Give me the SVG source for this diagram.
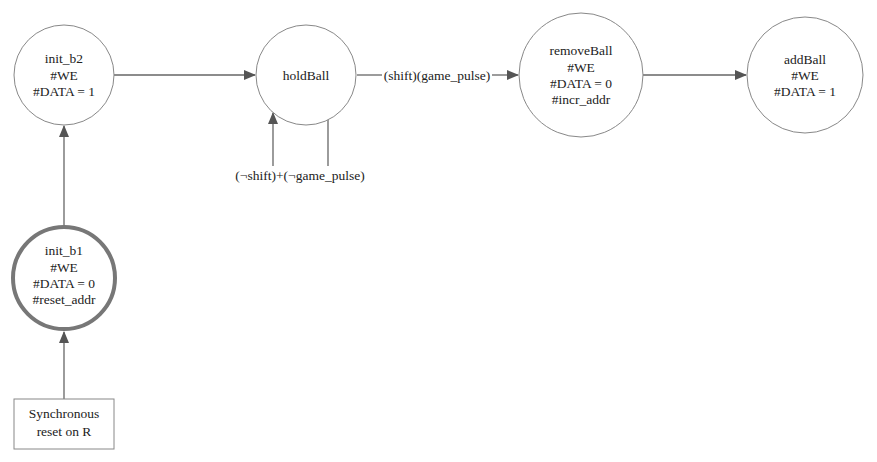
<svg xmlns="http://www.w3.org/2000/svg" width="877" height="462" viewBox="0 0 877 462">
<defs>
<marker id="ah" markerWidth="12" markerHeight="10" refX="11" refY="5" orient="auto" markerUnits="userSpaceOnUse">
<path d="M0,0 L12,5 L0,10 Z" fill="#555"/>
</marker>
<style>
.n{fill:#fff;stroke:#888;stroke-width:1}
.t{font-family:"Liberation Serif",serif;font-size:13.5px;fill:#222;text-anchor:middle}
.c{fill:none;stroke:#666;stroke-width:1.3}
</style>
</defs>
<rect width="877" height="462" fill="#fff"/>
<g id="connectors">
<line class="c" x1="114" y1="75" x2="255" y2="75" marker-end="url(#ah)"/>
<line class="c" x1="357" y1="75" x2="382" y2="75"/>
<line class="c" x1="492" y1="75" x2="518" y2="75" marker-end="url(#ah)"/>
<line class="c" x1="643" y1="75" x2="746" y2="75" marker-end="url(#ah)"/>
<line class="c" x1="328" y1="119" x2="328" y2="166"/>
<line class="c" x1="273" y1="166" x2="273" y2="113" marker-end="url(#ah)"/>
<line class="c" x1="64" y1="225" x2="64" y2="126" marker-end="url(#ah)"/>
<line class="c" x1="64" y1="399" x2="64" y2="332" marker-end="url(#ah)"/>
<text class="t" x="437" y="80">(shift)(game_pulse)</text>
<text class="t" x="300" y="180">(¬shift)+(¬game_pulse)</text>
</g>
<g id="init_b2">
<circle class="n" cx="64" cy="75" r="50"/>
<text class="t" x="64" y="63">init_b2</text>
<text class="t" x="64" y="80">#WE</text>
<text class="t" x="64" y="96">#DATA = 1</text>
</g>
<g id="holdBall">
<circle class="n" cx="306" cy="75" r="50"/>
<text class="t" x="306" y="80">holdBall</text>
</g>
<g id="removeBall">
<circle class="n" cx="581" cy="75" r="62"/>
<text class="t" x="581" y="55">removeBall</text>
<text class="t" x="581" y="72">#WE</text>
<text class="t" x="581" y="88">#DATA = 0</text>
<text class="t" x="581" y="104">#incr_addr</text>
</g>
<g id="addBall">
<circle class="n" cx="805" cy="75" r="58"/>
<text class="t" x="805" y="64">addBall</text>
<text class="t" x="805" y="80">#WE</text>
<text class="t" x="805" y="96">#DATA = 1</text>
</g>
<g id="init_b1">
<circle cx="64" cy="278" r="51" fill="#fff" stroke="#777" stroke-width="4"/>
<text class="t" x="64" y="255">init_b1</text>
<text class="t" x="64" y="272">#WE</text>
<text class="t" x="64" y="288">#DATA = 0</text>
<text class="t" x="64" y="304">#reset_addr</text>
</g>
<g id="reset">
<rect x="14" y="399" width="100" height="50" fill="#fff" stroke="#888" stroke-width="1"/>
<text class="t" x="64" y="418">Synchronous</text>
<text class="t" x="64" y="436">reset on R</text>
</g>
</svg>
